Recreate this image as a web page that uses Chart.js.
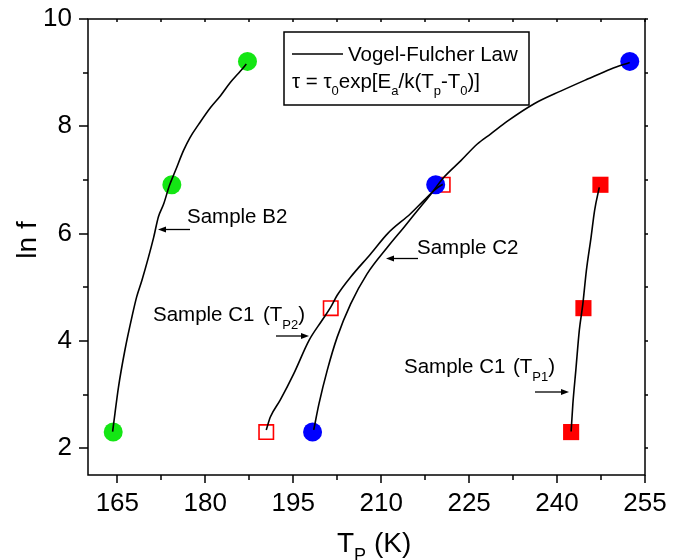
<!DOCTYPE html>
<html>
<head>
<meta charset="utf-8">
<script src="https://cdn.jsdelivr.net/npm/chart.js@4.4.0/dist/chart.umd.min.js"></script>
<style>
  html, body { margin: 0; padding: 0; background: #fff; }
  #wrap { width: 673px; height: 560px; }
</style>
</head>
<body>
<div id="wrap"><canvas id="chart" width="673" height="560"></canvas></div>
<script>
const FONT = '"Liberation Sans", Arial, sans-serif';

// measured peaks, ln f at f = 10, 100, 1000, 10000 Hz
const b2T = [164.3, 174.3, 187.2];
const b2LnF = [2.30, 6.91, 9.21];
const c2T = [198.3, 219.3, 252.4];
const c2LnF = [2.30, 6.91, 9.21];
const c1p2T = [190.4, 201.4, 220.5];
const c1p2LnF = [2.30, 4.61, 6.91];
const c1p1T = [242.4, 244.5, 247.4];
const c1p1LnF = [2.30, 4.61, 6.91];

// Vogel-Fulcher fit curves
const b2FitT = [164.2, 164.6, 165.2, 166.3, 167.5, 168.3, 169.2, 171.2, 172.0, 172.9, 173.9, 174.9, 176.3, 177.4, 178.9, 180.9, 182.6, 184.3, 186.0, 187.0];
const b2FitLnF = [2.31, 2.65, 3.14, 3.83, 4.45, 4.82, 5.13, 5.93, 6.31, 6.55, 6.90, 7.17, 7.55, 7.79, 8.04, 8.35, 8.57, 8.82, 9.03, 9.16];
const c2FitT = [198.5, 199.4, 200.8, 202.5, 204.8, 207.6, 211.1, 213.9, 216.2, 218.5, 220.7, 223.6, 226.4, 228.7, 231.6, 236.1, 240.7, 245.2, 249.2, 252.4];
const c2FitLnF = [2.34, 2.83, 3.45, 4.07, 4.69, 5.25, 5.75, 6.12, 6.43, 6.74, 7.05, 7.36, 7.67, 7.86, 8.10, 8.42, 8.66, 8.88, 9.07, 9.19];
const c1p2FitT = [190.4, 191.1, 192.8, 195.1, 197.7, 199.9, 201.4, 202.5, 204.8, 208.2, 211.1, 215.0, 217.3, 219.3, 220.5];
const c1p2FitLnF = [2.34, 2.58, 2.90, 3.39, 4.01, 4.38, 4.63, 4.85, 5.19, 5.62, 6.00, 6.37, 6.62, 6.83, 6.92];
const c1p1FitT = [242.4, 242.7, 243.2, 243.8, 244.4, 245.0, 245.8, 246.4, 247.2];
const c1p1FitLnF = [2.31, 2.83, 3.45, 4.20, 4.69, 5.31, 5.93, 6.43, 6.86];

const xTicks = [165, 180, 195, 210, 225, 240, 255];
const xMinorTicks = [172.5, 187.5, 202.5, 217.5, 232.5, 247.5];
const yTicks = [2, 4, 6, 8, 10];
const yMinorTicks = [3, 5, 7, 9];

const toPts = (xs, ys) => xs.map((x, i) => ({ x: x, y: ys[i] }));

function fitLine(xs, ys) {
    return {
        data: toPts(xs, ys),
        showLine: true,
        borderColor: "#000",
        borderWidth: 1.6,
        pointRadius: 0,
        cubicInterpolationMode: "monotone",
    };
}

function markers(xs, ys, style, radius, fill, stroke) {
    return {
        data: toPts(xs, ys),
        showLine: false,
        pointStyle: style,
        pointRadius: radius,
        pointHoverRadius: radius,
        backgroundColor: fill,
        borderColor: stroke || fill,
        borderWidth: stroke ? 1.6 : 0,
    };
}

// draws text with subscript parts: [text, isSub]
function richText(ctx, x, y, parts, size, subSize, subDy) {
    parts.forEach(([txt, sub]) => {
        ctx.font = (sub ? subSize : size) + "px " + FONT;
        ctx.fillText(txt, x, sub ? y + subDy : y);
        x += ctx.measureText(txt).width;
    });
    return x;
}

function arrow(ctx, x1, y, x2) {
    const dir = x2 > x1 ? 1 : -1;
    ctx.beginPath();
    ctx.moveTo(x1, y);
    ctx.lineTo(x2 - dir * 6, y);
    ctx.lineWidth = 1.3;
    ctx.stroke();
    ctx.beginPath();
    ctx.moveTo(x2, y);
    ctx.lineTo(x2 - dir * 8, y - 3);
    ctx.lineTo(x2 - dir * 8, y + 3);
    ctx.closePath();
    ctx.fill();
}

const decorations = {
    id: "decorations",
    afterDraw(chart) {
        const ctx = chart.ctx;
        const a = chart.chartArea;
        const xs = chart.scales.x;
        const ys = chart.scales.y;
        ctx.save();
        ctx.strokeStyle = "#000";
        ctx.fillStyle = "#000";

        // frame
        ctx.lineWidth = 1.5;
        ctx.strokeRect(a.left, a.top, a.right - a.left, a.bottom - a.top);

        // ticks
        ctx.beginPath();
        xTicks.concat(xMinorTicks).forEach((v) => {
            const px = Math.round(xs.getPixelForValue(v));
            const major = xTicks.includes(v);
            ctx.moveTo(px, a.bottom);
            ctx.lineTo(px, a.bottom + (major ? 8 : 5));
            ctx.moveTo(px, a.top);
            ctx.lineTo(px, a.top + 3);
        });
        yTicks.concat(yMinorTicks).forEach((v) => {
            const py = Math.round(ys.getPixelForValue(v));
            const major = yTicks.includes(v);
            ctx.moveTo(a.left, py);
            ctx.lineTo(a.left - (major ? 9 : 5), py);
            ctx.moveTo(a.right, py);
            ctx.lineTo(a.right + 3, py);
        });
        ctx.stroke();

        // legend box
        ctx.lineWidth = 1.5;
        ctx.strokeRect(284, 32, 245, 73);
        ctx.beginPath();
        ctx.moveTo(292, 54);
        ctx.lineTo(343, 54);
        ctx.stroke();
        ctx.textBaseline = "alphabetic";
        ctx.textAlign = "left";
        ctx.font = "20.5px " + FONT;
        ctx.fillText("Vogel-Fulcher Law", 348, 61);
        richText(ctx, 292, 88, [
            ["\u03c4 = \u03c4"], ["0", true], ["exp[E"], ["a", true], ["/k(T"],
            ["p", true], ["-T"], ["0", true], [")]"],
        ], 20.5, 13, 7);

        // sample labels
        ctx.font = "20.5px " + FONT;
        ctx.fillText("Sample B2", 187, 223);
        arrow(ctx, 190, 229.5, 158);
        ctx.font = "20.5px " + FONT;
        ctx.fillText("Sample C2", 417, 254);
        arrow(ctx, 418, 258.5, 386);

        ctx.font = "20.5px " + FONT;
        ctx.fillText("Sample C1", 153, 321);
        richText(ctx, 263, 321, [["(T"], ["P2", true], [")"]], 20.5, 13, 8);
        arrow(ctx, 276, 336, 309);

        ctx.font = "20.5px " + FONT;
        ctx.fillText("Sample C1", 404, 373);
        richText(ctx, 513, 373, [["(T"], ["P1", true], [")"]], 20.5, 13, 8);
        arrow(ctx, 535, 392, 569);

        // axis titles
        richText(ctx, 337, 552, [["T"], ["P", true], [" (K)"]], 28, 18, 9);
        ctx.save();
        ctx.translate(28, 240);
        ctx.rotate(-Math.PI / 2);
        ctx.textAlign = "center";
        ctx.textBaseline = "middle";
        ctx.font = "28px " + FONT;
        ctx.fillText("ln f", 0, 0);
        ctx.restore();

        ctx.restore();
    },
};

new Chart(document.getElementById("chart"), {
    type: "scatter",
    data: {
        datasets: [
            fitLine(b2FitT, b2FitLnF),
            fitLine(c2FitT, c2FitLnF),
            fitLine(c1p2FitT, c1p2FitLnF),
            fitLine(c1p1FitT, c1p1FitLnF),
            markers(b2T, b2LnF, "circle", 9.5, "#14e614"),
            markers(c2T, c2LnF, "circle", 9.5, "#0000ff"),
            markers(c1p2T, c1p2LnF, "rect", 10.2, "#ffffff", "#ff0000"),
            markers(c1p1T, c1p1LnF, "rect", 11.4, "#ff0000"),
        ],
    },
    options: {
        responsive: false,
        animation: false,
        events: [],
        layout: { padding: { top: 19, right: 28, left: 0, bottom: 0 } },
        plugins: {
            legend: { display: false },
            tooltip: { enabled: false },
        },
        scales: {
            x: {
                type: "linear",
                min: 160,
                max: 255,
                afterBuildTicks: (s) => { s.ticks = xTicks.map((v) => ({ value: v })); },
                afterFit: (s) => {
                    s.height = 85;
                    s.paddingLeft = 0;
                    s.paddingRight = 0;
                },
                grid: { display: false, drawTicks: false },
                border: { display: false },
                ticks: {
                    padding: 13,
                    color: "#000",
                    maxRotation: 0,
                    autoSkip: false,
                    font: { family: FONT, size: 26 },
                },
            },
            y: {
                type: "linear",
                min: 1.5,
                max: 10,
                afterBuildTicks: (s) => { s.ticks = yTicks.map((v) => ({ value: v })); },
                afterFit: (s) => {
                    s.width = 88;
                    s.paddingTop = 0;
                    s.paddingBottom = 0;
                },
                grid: { display: false, drawTicks: false },
                border: { display: false },
                ticks: {
                    padding: 16,
                    color: "#000",
                    autoSkip: false,
                    font: { family: FONT, size: 26 },
                },
            },
        },
    },
    plugins: [decorations],
});
</script>
</body>
</html>
